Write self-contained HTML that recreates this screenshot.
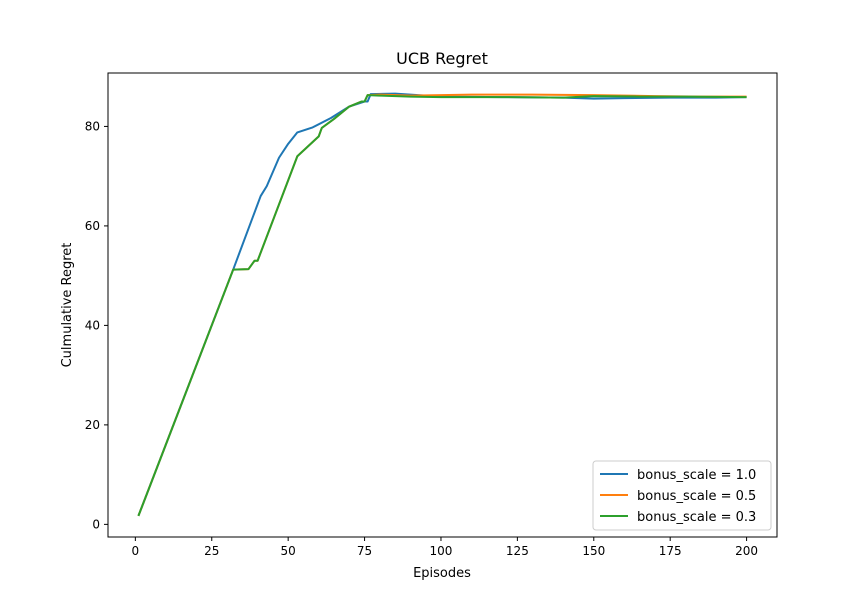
<!DOCTYPE html>
<html><head><meta charset="utf-8"><style>
body{margin:0;background:#fff;font-family:"Liberation Sans","DejaVu Sans",sans-serif}
</style></head><body>
<svg id="chart" width="863" height="603" viewBox="0 0 863 603" font-family="'DejaVu Sans','Liberation Sans',sans-serif">
<rect width="863" height="603" fill="#fff"/>
<text x="442" y="64" text-anchor="middle" font-size="16">UCB Regret</text>
<g id="plot"></g>
<rect x="108" y="73" width="669" height="464" fill="none" stroke="#000" stroke-width="1"/>
<text x="442" y="577" text-anchor="middle" font-size="13">Episodes</text>
<text transform="translate(71,305) rotate(-90)" text-anchor="middle" font-size="13">Culmulative Regret</text>
<g>
<rect x="593" y="461" width="178" height="69" rx="3" fill="#fff" stroke="#ccc"/>
<g><line x1="600" y1="474" x2="628" y2="474" stroke="#1f77b4" stroke-width="2"/><text x="637" y="479" font-size="13">bonus_scale = 1.0</text></g>
<g><line x1="600" y1="495" x2="628" y2="495" stroke="#ff7f0e" stroke-width="2"/><text x="637" y="500" font-size="13">bonus_scale = 0.5</text></g>
<g><line x1="600" y1="516" x2="628" y2="516" stroke="#2ca02c" stroke-width="2"/><text x="637" y="521" font-size="13">bonus_scale = 0.3</text></g>
</g>
</svg>
<script>
const xTicks=[0,25,50,75,100,125,150,175,200];
const yTicks=[0,20,40,60,80];
const blueX=[1,32,41,43,47,50,53,58,64,70,75,76,77,85,100,120,140,150,160,175,190,200];
const blueY=[1.7,51.2,66,68,73.7,76.5,78.8,79.8,81.7,84,85,85,86.5,86.6,86.0,85.9,85.8,85.6,85.7,85.8,85.8,85.9];
const orangeX=[1,32,37,39,40,53,60,61,65,70,74,75,76,80,90,100,110,130,150,170,185,200];
const orangeY=[1.7,51.2,51.3,53,53,74,78,79.7,81.5,84,85,85,86.3,86.4,86.2,86.3,86.4,86.4,86.3,86.1,86.0,86.0];
const greenX=[1,32,37,39,40,53,60,61,65,70,74,75,76,80,90,100,120,140,150,165,180,200];
const greenY=[1.7,51.2,51.3,53,53,74,78,79.7,81.5,84,85,85,86.3,86.2,86.0,85.9,85.9,85.8,86.1,86.0,86.0,85.9];
const X0=108,X1=777,Y0=537,Y1=73,xmin=-8.95,xmax=209.95,ymin=-2.54,ymax=90.74;
const sx=v=>X0+(v-xmin)/(xmax-xmin)*(X1-X0);
const sy=v=>Y0-(v-ymin)/(ymax-ymin)*(Y0-Y1);
const NS="http://www.w3.org/2000/svg";
const g=document.getElementById('plot');
function mk(t,a){const e=document.createElementNS(NS,t);for(const k in a)e.setAttribute(k,a[k]);g.appendChild(e);return e;}
xTicks.forEach(t=>{
 const l=mk('line',{x1:sx(t),x2:sx(t),y1:Y0,y2:Y0+4,stroke:'#000'});
 
 
 const tx=mk('text',{x:sx(t),y:Y0+18,'text-anchor':'middle','font-size':12});
 tx.textContent=t;
 
 
});
yTicks.forEach(t=>{
 const l=mk('line',{x1:X0-4,x2:X0,y1:sy(t),y2:sy(t),stroke:'#000'});
 
 
 const tx=mk('text',{x:X0-8,y:sy(t)+4,'text-anchor':'end','font-size':12});
 tx.textContent=t;
 
 
});
function series(xs,ys,c,n){
 const p=mk('polyline',{points:xs.map((x,i)=>sx(x)+','+sy(ys[i])).join(' '),fill:'none',stroke:c,'stroke-width':2,'stroke-linejoin':'round'});
 
 
}
series(blueX,blueY,'#1f77b4','line-bonus-1.0');
series(orangeX,orangeY,'#ff7f0e','line-bonus-0.5');
series(greenX,greenY,'#2ca02c','line-bonus-0.3');
</script>
</body></html>
